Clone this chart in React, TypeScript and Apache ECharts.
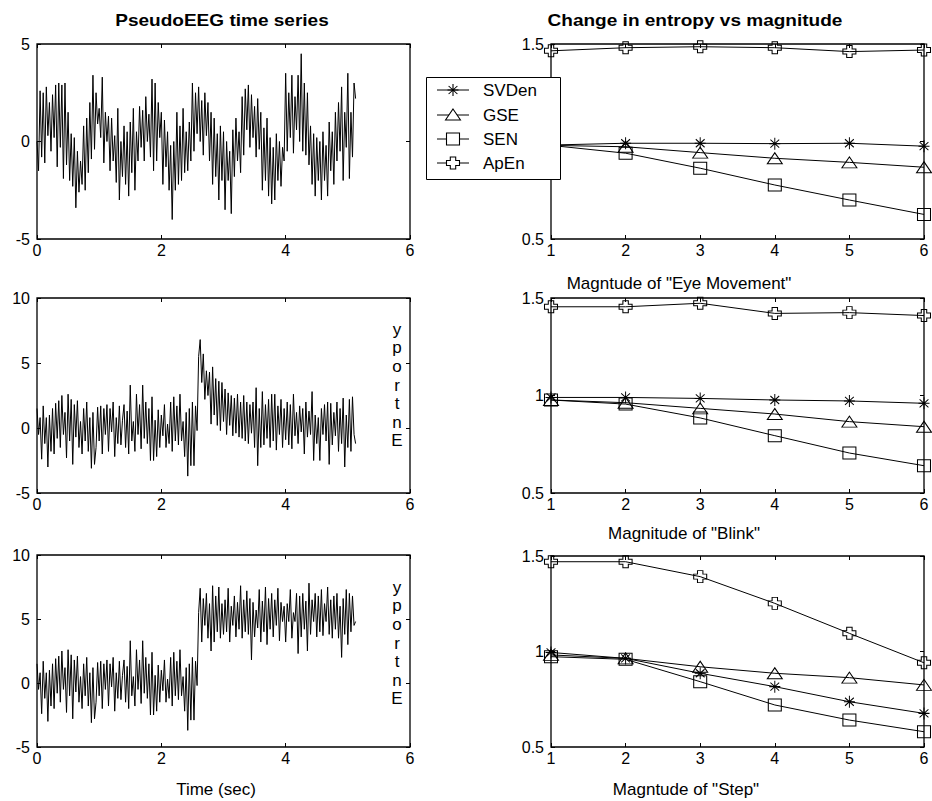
import React, { useEffect, useRef } from 'react';
import * as echarts from 'echarts';

const FONT = 'Arial, "Liberation Sans", Helvetica, sans-serif';
const SAMPLE_STEP = 0.025; // seconds between samples

// Top-left: PseudoEEG time series (eye movement)
const pseudoEEG = [
  0.0, -1.5, 2.6, -0.8, 2.5, -1.1, 2.8, 0.3,
  2.0, -0.5, 2.4, 0.2, 2.9, -1.3, 3.0, -0.3,
  2.9, -1.9, 3.0, -1.2, 1.5, -2.0, 0.4, -2.3,
  0.2, -3.4, -0.5, -2.6, -1.0, -2.2, 0.8, -2.5,
  1.2, -1.6, 2.0, -0.9, 3.4, -0.4, 2.5, 0.9,
  1.7, 0.2, 3.3, -1.1, 1.5, 0.0, 1.3, -1.5,
  1.2, -1.0, 0.3, -2.1, 1.7, -3.0, 0.0, -1.8,
  0.8, -2.2, 0.5, -2.8, 1.0, -1.6, 1.7, -2.5,
  0.5, -1.0, 1.8, -0.3, 1.6, -1.0, 2.3, 0.0,
  1.4, -0.8, 3.2, -1.5, 3.0, -1.0, 2.0, 0.2,
  1.5, -2.2, 1.1, -1.3, 0.5, -2.5, -0.2, -4.0,
  0.0, -2.5, 1.5, -2.2, 0.8, -2.0, 1.7, -1.6,
  0.5, -1.5, 1.0, -1.0, 3.0, -0.5, 2.5, 0.4,
  2.8, 0.0, 2.1, -0.7, 2.5, 0.3, 2.0, -1.0,
  1.5, -2.2, 1.2, -1.8, 0.4, -3.0, 0.8, -2.0,
  0.5, -3.5, 0.0, -2.0, -0.5, -3.7, 0.6, -1.8,
  1.2, -1.0, 0.5, -1.6, 2.3, -0.7, 2.7, 0.6,
  2.9, -0.3, 2.4, 0.2, 1.8, -0.8, 2.2, -0.4,
  1.5, -2.5, 0.7, -2.0, 1.2, -2.8, 0.2, -3.2,
  -0.3, -3.0, 0.4, -2.0, 0.0, -2.3, -0.3, -1.0,
  3.5, -0.5, 2.5, 0.2, 3.4, -0.6, 2.3, 0.6,
  3.4, 0.0, 4.5, -0.5, 3.0, -0.7, 2.5, -1.2,
  0.8, -2.2, 0.4, -2.8, 0.2, -2.0, 0.0, -3.0,
  0.5, -2.0, -0.2, -2.8, 1.0, -1.5, 0.5, -2.2,
  1.5, -1.0, 2.0, -0.5, 2.8, -2.0, 1.5, -0.3,
  3.5, -1.9, 1.5, -0.8, 3.0, 2.2,
];

// Shared background EEG before the event (0 - 2.6 s), middle & bottom panels
const preEventEEG = [
  1.5, -0.5, 0.8, -2.4, 1.7, -1.2, 0.8, -3.0,
  1.0, -1.8, 1.5, -2.0, 1.9, -0.8, 2.1, -1.5,
  2.5, -0.5, 1.2, -2.3, 2.6, -1.0, 2.2, -2.8,
  1.8, -0.7, 2.1, -1.5, 0.5, -2.0, 1.5, -1.0,
  2.0, -1.8, 0.8, -3.1, 1.2, -2.8, -1.5, 1.6,
  -1.0, 1.7, -2.0, 1.5, -0.5, 1.8, -1.8, 1.5,
  -0.3, 2.0, -2.2, 0.8, -1.2, 1.7, -1.3, 0.6,
  1.8, -1.5, 1.3, -2.0, 3.3, -1.0, 0.5, -1.8,
  2.6, -0.5, 1.8, -1.6, 3.3, -0.8, 2.0, -1.2,
  1.5, -2.5, 2.4, -2.5, 0.6, -2.2, 1.4, -1.5,
  1.0, -0.6, 1.8, -1.5, 0.3, -1.2, 2.0, -1.8,
  2.4, -1.0, 1.7, -1.3, 2.6, -1.0, 0.5, -2.2,
  1.2, -3.7, 1.5, -2.9, 2.0, -2.9, 1.7, -0.2,
];

// Middle-left after 2.6 s: blink artefact
const blinkAfter = [
  5.5, 6.8, 3.5, 5.7, 2.2, 4.4, 2.5, 4.3,
  0.3, 4.7, 1.0, 3.8, 0.2, 3.6, -0.2, 3.5,
  0.5, 3.0, -0.5, 2.7, 0.2, 2.5, -0.6, 2.3,
  -0.4, 2.6, -0.7, 2.0, -0.8, 2.5, -1.0, 2.0,
  -1.2, 1.8, -0.4, 2.0, -1.5, 3.1, -2.9, 1.5,
  -1.5, 2.8, -1.3, 1.8, -0.8, 2.2, -1.5, 2.6,
  -1.0, 2.6, -1.7, 1.7, -0.5, 2.2, -1.5, 1.5,
  -0.9, 2.0, -1.3, 1.8, -1.6, 2.6, -0.6, 1.2,
  -1.2, 1.7, -0.3, 1.5, -2.0, 2.0, -0.7, 1.3,
  -0.5, 2.8, -2.5, 1.0, -1.2, 0.8, -2.5, 1.5,
  -0.5, 1.8, -1.0, 2.0, -2.8, 1.9, -1.3, 1.2,
  -0.6, 2.0, -1.8, 1.5, -1.2, 2.3, -3.0, 1.0,
  -1.5, 2.2, -1.8, 2.4, -0.5, -1.2,
];

// Bottom-left after 2.6 s: step artefact
const stepAfter = [
  5.5, 7.4, 3.2, 6.6, 4.5, 7.0, 3.5, 6.2,
  2.5, 7.6, 3.2, 6.8, 4.0, 7.5, 3.5, 6.2,
  3.8, 6.5, 4.0, 7.4, 3.2, 6.0, 4.5, 6.8,
  3.6, 6.3, 4.2, 7.6, 3.5, 6.5, 4.0, 7.2,
  3.8, 6.6, 1.8, 6.3, 3.6, 5.7, 4.3, 7.3,
  3.2, 6.4, 4.0, 7.5, 3.0, 6.6, 4.2, 7.0,
  3.6, 6.5, 4.5, 7.4, 3.3, 6.3, 4.8, 6.0,
  3.2, 6.2, 4.8, 7.3, 3.5, 5.5, 4.8, 7.0,
  2.3, 6.8, 3.6, 7.0, 4.2, 6.4, 2.5, 7.8,
  3.8, 6.5, 4.8, 7.0, 3.6, 6.8, 4.0, 7.3,
  3.7, 6.2, 4.8, 7.5, 3.8, 6.5, 3.5, 6.8,
  4.2, 7.0, 3.5, 6.0, 2.0, 6.6, 3.8, 7.3,
  3.0, 7.0, 4.0, 6.8, 4.5, 4.8,
];

const blinkEEG = [...preEventEEG, ...blinkAfter];
const stepEEG = [...preEventEEG, ...stepAfter];

// Right panels
const magnitudes = [1, 2, 3, 4, 5, 6];
const measureNames = ['SVDen', 'GSE', 'SEN', 'ApEn'];

const eyeSVDen = [0.982, 0.991, 0.991, 0.989, 0.991, 0.976];
const eyeGSE = [0.98, 0.973, 0.943, 0.914, 0.893, 0.868];
const eyeSEN = [0.98, 0.94, 0.863, 0.777, 0.70, 0.626];
const eyeApEn = [1.465, 1.481, 1.486, 1.481, 1.461, 1.469];

const blinkSVDen = [0.99, 0.99, 0.985, 0.977, 0.972, 0.96];
const blinkGSE = [0.977, 0.963, 0.934, 0.905, 0.866, 0.84];
const blinkSEN = [0.977, 0.956, 0.885, 0.794, 0.705, 0.64];
const blinkApEn = [1.455, 1.455, 1.473, 1.421, 1.425, 1.41];

const stepSVDen = [0.995, 0.964, 0.886, 0.816, 0.737, 0.676];
const stepGSE = [0.982, 0.964, 0.92, 0.886, 0.863, 0.825];
const stepSEN = [0.973, 0.959, 0.842, 0.72, 0.641, 0.58];
const stepApEn = [1.47, 1.47, 1.392, 1.252, 1.095, 0.941];

const timeTicks = { min: 0, max: 6, interval: 2 };
const magTicks = { min: 1, max: 6, interval: 1 };
const entropyTicks = { min: 0.5, max: 1.5, interval: 0.5 };
const eegTicksTop = { min: -5, max: 5, interval: 5 };
const eegTicks = { min: -5, max: 10, interval: 5 };

const MARKER_PATHS: Record<string, string> = {
  SVDen: 'M0,-6L0,6M-5,0L5,0M-4,-4L4,4M-4,4L4,-4',
  GSE: 'M0,-6L7,5L-7,5Z',
  SEN: 'M-6,-6L6,-6L6,6L-6,6Z',
  ApEn: 'M-2.5,-6L2.5,-6L2.5,-2.5L6,-2.5L6,2.5L2.5,2.5L2.5,6L-2.5,6L-2.5,2.5L-6,2.5L-6,-2.5L-2.5,-2.5Z',
};
const MARKER_SIZES: Record<string, number[]> = {
  SVDen: [11, 12],
  GSE: [15, 11],
  SEN: [13, 12],
  ApEn: [13, 12],
};

const grids = [
  { left: 37, top: 44, width: 373, height: 195 },
  { left: 37, top: 298, width: 373, height: 195 },
  { left: 37, top: 555, width: 373, height: 192 },
  { left: 551, top: 44, width: 373, height: 195 },
  { left: 551, top: 298, width: 373, height: 195 },
  { left: 551, top: 556, width: 373, height: 191 },
];

function axisPair(kind: 'x' | 'y', gi: number, t: { min: number; max: number; interval: number }) {
  const base = {
    type: 'value',
    gridIndex: gi,
    min: t.min,
    max: t.max,
    interval: t.interval,
    axisLine: { show: false, onZero: false },
    splitLine: { show: false },
    axisTick: { show: true, inside: true, length: 4, lineStyle: { color: '#000', width: 1 } },
  };
  const main = {
    ...base,
    position: kind === 'x' ? 'bottom' : 'left',
    axisLabel: {
      show: true,
      color: '#000',
      fontSize: 16,
      fontFamily: FONT,
      margin: kind === 'x' ? 3 : 7,
      showMinLabel: true,
      showMaxLabel: true,
    },
  };
  const mirror = {
    ...base,
    position: kind === 'x' ? 'top' : 'right',
    axisLabel: { show: false },
  };
  return [main, mirror];
}

export default function App() {
  const ref = useRef<HTMLDivElement>(null);

  useEffect(() => {
    if (!ref.current) return;
    measureNames.forEach((n) => {
      echarts.graphic.registerShape('mk' + n, echarts.graphic.extendPath(MARKER_PATHS[n], {}) as any);
    });
    const chart = echarts.init(ref.current, undefined, { renderer: 'svg' });

    const xAxis: any[] = [];
    const yAxis: any[] = [];
    grids.forEach((_, gi) => {
      const left = gi < 3;
      xAxis.push(...axisPair('x', gi, left ? timeTicks : magTicks));
      yAxis.push(...axisPair('y', gi, left ? (gi === 0 ? eegTicksTop : eegTicks) : entropyTicks));
    });

    const eegSeries = [pseudoEEG, blinkEEG, stepEEG].map((arr, gi) => ({
      type: 'line',
      xAxisIndex: gi * 2,
      yAxisIndex: gi * 2,
      data: arr.map((v, i) => [i * SAMPLE_STEP, v]),
      symbol: 'none',
      showSymbol: false,
      lineStyle: { color: '#000', width: 1 },
      silent: true,
    }));

    const panels = [
      [eyeSVDen, eyeGSE, eyeSEN, eyeApEn],
      [blinkSVDen, blinkGSE, blinkSEN, blinkApEn],
      [stepSVDen, stepGSE, stepSEN, stepApEn],
    ];
    const entropySeries: any[] = [];
    panels.forEach((vals, p) => {
      const gi = p + 3;
      vals.forEach((arr, k) => {
        const name = measureNames[k];
        entropySeries.push({
          type: 'line',
          name,
          xAxisIndex: gi * 2,
          yAxisIndex: gi * 2,
          data: arr.map((v, i) => [magnitudes[i], v]),
          symbol: 'path://' + MARKER_PATHS[name],
          symbolSize: MARKER_SIZES[name],
          showSymbol: true,
          lineStyle: { color: '#000', width: 1 },
          itemStyle: { color: 'rgba(255,255,255,0)', borderColor: '#000', borderWidth: 1 },
          z: 3,
        });
      });
    });

    const textEl = (text: string, x: number, y: number, font: string, scaleX = 1, align = 'center') => ({
      type: 'text',
      x,
      y,
      scaleX,
      z: 50,
      style: {
        text,
        font,
        fill: '#000',
        align,
        textAlign: align,
        verticalAlign: 'middle',
        textVerticalAlign: 'middle',
      },
    });

    const stacked = (y: number) => ({
      type: 'text',
      x: 397,
      y,
      z: 50,
      style: {
        text: 'y\np\no\nr\nt\nn\nE',
        font: `17px ${FONT}`,
        fill: '#000',
        align: 'center',
        textAlign: 'center',
        verticalAlign: 'top',
        textVerticalAlign: 'top',
        lineHeight: 18.6,
      },
    });

    // Legend (drawn with graphic elements to match the reference box)
    const legendRows = [90, 115, 139, 163];
    const legendEls: any[] = [
      {
        type: 'rect',
        z: 40,
        shape: { x: 426.5, y: 77.5, width: 134, height: 102 },
        style: { fill: '#fff', stroke: '#000', lineWidth: 1 },
      },
    ];
    measureNames.forEach((n, k) => {
      const y = legendRows[k];
      legendEls.push({
        type: 'line',
        z: 41,
        shape: { x1: 437, y1: y, x2: 469, y2: y },
        style: { stroke: '#000', lineWidth: 1 },
      });
      legendEls.push({
        type: 'mk' + n,
        z: 42,
        x: 453,
        y,
        scaleX: MARKER_SIZES[n][0] / (n === 'SVDen' ? 10 : n === 'GSE' ? 14 : 12),
        scaleY: MARKER_SIZES[n][1] / (n === 'GSE' ? 11 : 12),
        style: { fill: n === 'SVDen' ? 'none' : '#fff', stroke: '#000', lineWidth: 1, strokeNoScale: true },
      });
      legendEls.push({ ...textEl(n, 483, y, `17px ${FONT}`, 1, 'left'), z: 43 });
    });

    chart.setOption({
      animation: false,
      backgroundColor: '#fff',
      grid: grids.map((g) => ({
        ...g,
        show: true,
        borderColor: '#000',
        borderWidth: 1.3,
        backgroundColor: 'transparent',
        containLabel: false,
      })),
      xAxis,
      yAxis,
      graphic: [
        textEl('PseudoEEG time series', 222, 20, `bold 17px ${FONT}`, 1.12),
        textEl('Change in entropy vs magnitude', 695, 20, `bold 17px ${FONT}`, 1.12),
        textEl('Magntude of "Eye Movement"', 679, 283, `17px ${FONT}`),
        textEl('Magnitude of "Blink"', 684, 533, `17px ${FONT}`),
        textEl('Magntude of "Step"', 686, 789, `17px ${FONT}`),
        textEl('Time (sec)', 216, 789, `17px ${FONT}`),
        stacked(320),
        stacked(578),
        ...legendEls,
      ],
      series: [...eegSeries, ...entropySeries],
    });

    return () => chart.dispose();
  }, []);

  return (
    <div
      ref={ref}
      style={{ position: 'absolute', left: 0, top: 0, width: 932, height: 801, background: '#fff' }}
    />
  );
}
